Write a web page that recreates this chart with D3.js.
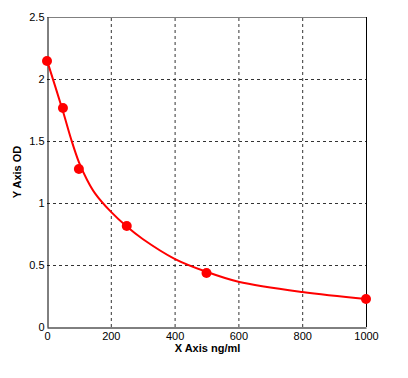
<!DOCTYPE html>
<html>
<head>
<meta charset="utf-8">
<script src="https://cdn.jsdelivr.net/npm/d3@7"></script>
<style>
  body { margin: 0; background: #fff; }
  text { font-family: "Liberation Sans Narrow", "Liberation Sans", Arial, sans-serif; }
</style>
</head>
<body>
<div id="chart"></div>
<script>
/* Standard curve chart */

// measured points
const conc = [0, 50, 100, 250, 500, 1000];
const od = [2.145, 1.766, 1.274, 0.815, 0.435, 0.226];

// fitted curve
const fitConc = [0, 50, 75, 100, 125, 150, 200, 250, 300, 400, 500, 600, 800, 1000];
const fitOd = [2.15, 1.74, 1.52, 1.33, 1.19, 1.08, 0.93, 0.81, 0.71, 0.55, 0.445, 0.365, 0.282, 0.226];

const xTicks = [0, 200, 400, 600, 800, 1000];
const yTicks = [0, 0.5, 1, 1.5, 2, 2.5];

const height = 378,
    width = 408,
    margin = ({ top: 17, right: 42, bottom: 51, left: 47 });

const svg = d3.select("#chart")
    .append("svg")
    .attr("width", width)
    .attr("height", height);

let x = d3.scaleLinear()
    .domain([0, 1000])
    .range([margin.left, width - margin.right]);

let y = d3.scaleLinear()
    .domain([0, 2.5])
    .range([height - margin.bottom, margin.top]);

// grid lines
svg.append("g")
    .selectAll("line")
    .data(xTicks.slice(1, -1))
    .join("line")
    .attr("x1", d => x(d) + 0.5).attr("x2", d => x(d) + 0.5)
    .attr("y1", y(0)).attr("y2", y(2.5))
    .attr("stroke", "#333")
    .attr("stroke-dasharray", "3,3");

svg.append("g")
    .selectAll("line")
    .data(yTicks.slice(1, -1))
    .join("line")
    .attr("y1", d => y(d) + 0.5).attr("y2", d => y(d) + 0.5)
    .attr("x1", x(0)).attr("x2", x(1000))
    .attr("stroke", "#333")
    .attr("stroke-dasharray", "3,3");

// frame
svg.append("line") // top, grey
    .attr("x1", x(0)).attr("x2", x(1000))
    .attr("y1", y(2.5) + 0.5).attr("y2", y(2.5) + 0.5)
    .attr("stroke", "#808080");
svg.append("line") // right
    .attr("x1", x(1000) + 0.5).attr("x2", x(1000) + 0.5)
    .attr("y1", y(2.5)).attr("y2", y(0))
    .attr("stroke", "#000");

svg.append("g")  // x axis
    .attr("transform", `translate(0,${y(0) + 0.5})`)
    .call(d3.axisBottom(x).tickValues(xTicks).tickFormat(d => d).tickSize(0).tickPadding(5).tickSizeOuter(0))
    .call(g => g.select(".domain").attr("stroke", "#000"))
    .call(g => g.selectAll("text").attr("font-size", 11).attr("fill", "#000"));

svg.append("g")  // y axis
    .attr("transform", `translate(${x(0) + 0.5},0)`)
    .call(d3.axisLeft(y).tickValues(yTicks).tickFormat(d => d).tickSize(0).tickPadding(3).tickSizeOuter(0))
    .call(g => g.select(".domain").attr("stroke", "#000"))
    .call(g => g.selectAll("text").attr("font-size", 11).attr("fill", "#000"));

svg.append("text")
    .attr("x", (x(0) + x(1000)) / 2 + 1)
    .attr("y", 352)
    .attr("text-anchor", "middle")
    .attr("font-size", 11)
    .attr("font-weight", "bold")
    .text("X Axis ng/ml");

svg.append("text")
    .attr("transform", `translate(21,${(y(0) + y(2.5)) / 2}) rotate(-90)`)
    .attr("text-anchor", "middle")
    .attr("font-size", 11)
    .attr("font-weight", "bold")
    .text("Y Axis OD");

// fitted curve
let line = d3.line()
    .x((d, i) => x(fitConc[i]))
    .y(d => y(d))
    .curve(d3.curveCatmullRom.alpha(0.5));

svg.append("path")
    .datum(fitOd)
    .attr("d", line)
    .attr("fill", "none")
    .attr("stroke", "#ff0000")
    .attr("stroke-width", 2);

svg.append("g")
    .selectAll("circle")
    .data(od)
    .join("circle")
    .attr("cx", (d, i) => x(conc[i]))
    .attr("cy", d => y(d))
    .attr("r", 5)
    .attr("fill", "#ff0000");
</script>
</body>
</html>
